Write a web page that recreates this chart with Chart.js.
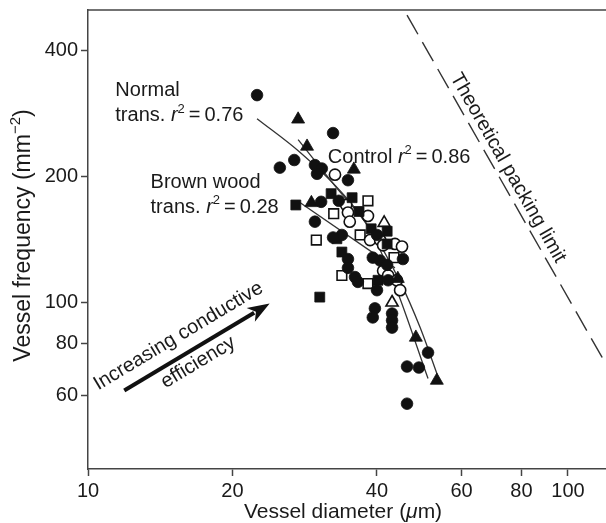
<!DOCTYPE html>
<html>
<head>
<meta charset="utf-8">
<script src="https://cdn.jsdelivr.net/npm/chart.js@4.4.0/dist/chart.umd.min.js"></script>
<style>
html,body{margin:0;padding:0;background:#fff}
#wrap{width:606px;height:523px}
</style>
</head>
<body>
<div id="wrap"><canvas id="c" width="606" height="523"></canvas></div>
<script>
// vessel diameter (um) / vessel frequency (mm^-2)
const fcDiam=[22.5,32.4,26.9,25.1,29.7,30.7,30.0,34.8,30.6,33.3,29.7,33.8,32.4,40.0,34.8,34.8,39.2,40.6,42.0,45.3,36.0,36.5,40.0,42.2,39.6,39.2,43.0,43.0,43.0,51.1,46.2,48.9,46.2]
const fcFreq=[313,254,219,210,213,209,203,196,174,175,156,145,143,145,127,121,128,126,123,127,115,112,107,113,96.8,92.1,94.1,90.6,87.1,75.9,70.3,69.9,57.3]
const ftDiam=[27.4,28.6,35.8,29.2,44.2,48.2,53.3]
const ftFreq=[274,236,208,173,114,82.5,65.1]
const fsDiam=[32.1,35.5,27.1,36.7,33.0,38.9,42.0,42.0,33.8,40.2,30.4]
const fsFreq=[182,178,171,165,142,150,148,138,132,113,103]
const ocDiam=[32.7,34.5,34.8,35.1,38.3,38.7,40.6,41.2,43.6,45.1,41.2,42.2,44.0,44.7]
const ocFreq=[202,171,164,156,161,141,141,137,138,136,119,116,113,107]
const otDiam=[41.4,43.0]
const otFreq=[155,100]
const osDiam=[38.3,32.5,29.9,36.9,43.4,33.8,38.3]
const osFreq=[175,163,141,145,128,116,111]

// fitted lines
const normalDiam=[22.5,27.6,33.5,38.7,43.6,51.1]
const normalFreq=[275,229,185,149,110,65.8]
const controlDiam=[27.4,32.7,38.7,44.7,49.2,53.6]
const controlFreq=[245,190,150,112,87.1,66.5]
const brownDiam=[27.3,43.6]
const brownFreq=[175,121]
const packDiam=[46.2,121]
const packFreq=[486,70]

const xTicks=[10,20,40,60,80,100]
const yTicks=[60,80,100,200,400]

const FONT='"Liberation Sans", Arial, Helvetica, sans-serif'
const INK='#1a1a1a'

function pts(xs,ys){return xs.map((x,i)=>({x:x,y:ys[i]}))}

function scat(xs,ys,style,filled,r){
    return {type:'scatter',data:pts(xs,ys),pointStyle:style,pointRadius:r,pointHoverRadius:r,
        backgroundColor:filled?'#111':'#fff',borderColor:'#111',borderWidth:filled?0.8:1.6,order:1}
}
function fit(xs,ys,dash){
    return {type:'line',data:pts(xs,ys),borderColor:'#333',borderWidth:dash?1.4:1.3,borderDash:dash||[],
        pointRadius:0,fill:false,tension:dash?0:0.4,cubicInterpolationMode:'monotone',order:5}
}

// draw a line of text made of pieces: {t, it (italic), sup (superscript)}
function rich(ctx,parts,size){
    let w=0
    parts.forEach(p=>{
        ctx.font=(p.it?'italic ':'')+(p.sup?Math.round(size*0.65):size)+'px '+FONT
        p.w=ctx.measureText(p.t).width
        w+=p.w
    })
    return w
}
function drawRich(ctx,parts,x,y,size){
    rich(ctx,parts,size)
    let cx=x
    parts.forEach(p=>{
        ctx.font=(p.it?'italic ':'')+(p.sup?Math.round(size*0.65):size)+'px '+FONT
        ctx.fillText(p.t,cx,p.sup?y-size*0.42:y)
        cx+=p.w
    })
}
function r2(v){return [{t:'r',it:true},{t:'2',sup:true},{t:'\u2009=\u2009'+v}]}

const annot={
    id:'annot',
    afterDraw(chart){
        const ctx=chart.ctx, a=chart.chartArea
        const xs=chart.scales.x, ys=chart.scales.y
        const px=v=>xs.getPixelForValue(v), py=v=>ys.getPixelForValue(v)
        ctx.save()
        // top frame line
        ctx.strokeStyle='#444';ctx.lineWidth=1.5
        ctx.beginPath();ctx.moveTo(a.left,a.top);ctx.lineTo(a.right,a.top);ctx.stroke()

        ctx.fillStyle=INK;ctx.textBaseline='alphabetic';ctx.textAlign='left'
        const S=20
        // axis titles
        let xt=[{t:'Vessel diameter ('},{t:'\u03bc',it:true},{t:'m)'}]
        let w=rich(ctx,xt,21)
        drawRich(ctx,xt,343-w/2,518,21)
        let yt=[{t:'Vessel frequency (mm'},{t:'\u22122',sup:true},{t:')'}]
        w=rich(ctx,yt,23)
        ctx.save();ctx.translate(30,(a.top+a.bottom)/2-4);ctx.rotate(-Math.PI/2)
        drawRich(ctx,yt,-w/2,0,23);ctx.restore()

        // labels of fits
        drawRich(ctx,[{t:'Normal'}],px(11.4),py(311),S)
        drawRich(ctx,[{t:'trans. '}].concat(r2('0.76')),px(11.4),py(271),S)
        drawRich(ctx,[{t:'Brown wood'}],px(13.5),py(188),S)
        drawRich(ctx,[{t:'trans. '}].concat(r2('0.28')),px(13.5),py(164),S)
        drawRich(ctx,[{t:'Control '}].concat(r2('0.86')),px(31.6),py(216),S)

        // packing limit text, parallel to the dashed line
        const ang=Math.atan2(py(packFreq[1])-py(packFreq[0]),px(packDiam[1])-px(packDiam[0]))
        ctx.save();ctx.translate(px(56.8),py(345));ctx.rotate(ang)
        ctx.font='20px '+FONT;ctx.fillText('Theoretical packing limit',0,0);ctx.restore()

        // arrow
        const x0=px(11.9),y0=py(61.6),x1=px(23.9),y1=py(99.4)
        const aa=Math.atan2(y1-y0,x1-x0)
        const hl=22,hw=8
        const bx=x1-hl*Math.cos(aa),by=y1-hl*Math.sin(aa)
        ctx.strokeStyle='#111';ctx.fillStyle='#111';ctx.lineWidth=4
        ctx.beginPath();ctx.moveTo(x0,y0);ctx.lineTo(bx+4*Math.cos(aa),by+4*Math.sin(aa));ctx.stroke()
        ctx.beginPath();ctx.moveTo(x1,y1)
        ctx.lineTo(bx+hw*Math.sin(aa),by-hw*Math.cos(aa))
        ctx.lineTo(bx+6*Math.cos(aa),by+6*Math.sin(aa))
        ctx.lineTo(bx-hw*Math.sin(aa),by+hw*Math.cos(aa))
        ctx.closePath();ctx.fill()

        ctx.fillStyle=INK;ctx.font=S+'px '+FONT
        ctx.save();ctx.translate(px(10.5),py(61.6));ctx.rotate(aa)
        ctx.fillText('Increasing conductive',0,0);ctx.restore()
        ctx.save();ctx.translate(px(14.5),py(62.3));ctx.rotate(aa)
        ctx.fillText('efficiency',0,0);ctx.restore()
        ctx.restore()
    }
}

Chart.defaults.font.family=FONT
Chart.defaults.font.size=20
Chart.defaults.color=INK

new Chart(document.getElementById('c'),{
    type:'scatter',
    data:{datasets:[
        scat(fcDiam,fcFreq,'circle',true,5.8),
        scat(ftDiam,ftFreq,'triangle',true,7.5),
        scat(fsDiam,fsFreq,'rect',true,7),
        scat(ocDiam,ocFreq,'circle',false,5.6),
        scat(otDiam,otFreq,'triangle',false,7),
        scat(osDiam,osFreq,'rect',false,6.8),
        fit(normalDiam,normalFreq),
        fit(controlDiam,controlFreq),
        fit(brownDiam,brownFreq),
        fit(packDiam,packFreq,[22,9])
    ]},
    options:{
        responsive:false,animation:false,devicePixelRatio:1,
        layout:{autoPadding:false,padding:{top:10,right:0,left:0,bottom:0}},
        plugins:{legend:{display:false},tooltip:{enabled:false}},
        scales:{
            x:{type:'logarithmic',min:10,max:120,position:'bottom',
                afterBuildTicks:s=>{s.ticks=xTicks.map(v=>({value:v}))},
                afterFit:s=>{s.height=54;s.paddingLeft=0;s.paddingRight=0},
                ticks:{callback:v=>String(v),autoSkip:false,maxRotation:0,padding:3,color:INK},
                grid:{drawOnChartArea:false,tickLength:7,tickColor:'#444',tickWidth:1.5},
                border:{color:'#444',width:1.5}},
            y:{type:'logarithmic',min:40,max:500,
                afterBuildTicks:s=>{s.ticks=yTicks.map(v=>({value:v}))},
                afterFit:s=>{s.width=88;s.paddingTop=0;s.paddingBottom=0},
                ticks:{callback:v=>String(v),autoSkip:false,padding:3,color:INK},
                grid:{drawOnChartArea:false,tickLength:7,tickColor:'#444',tickWidth:1.5},
                border:{color:'#444',width:1.5}}
        }
    },
    plugins:[annot]
})
</script>
</body>
</html>
